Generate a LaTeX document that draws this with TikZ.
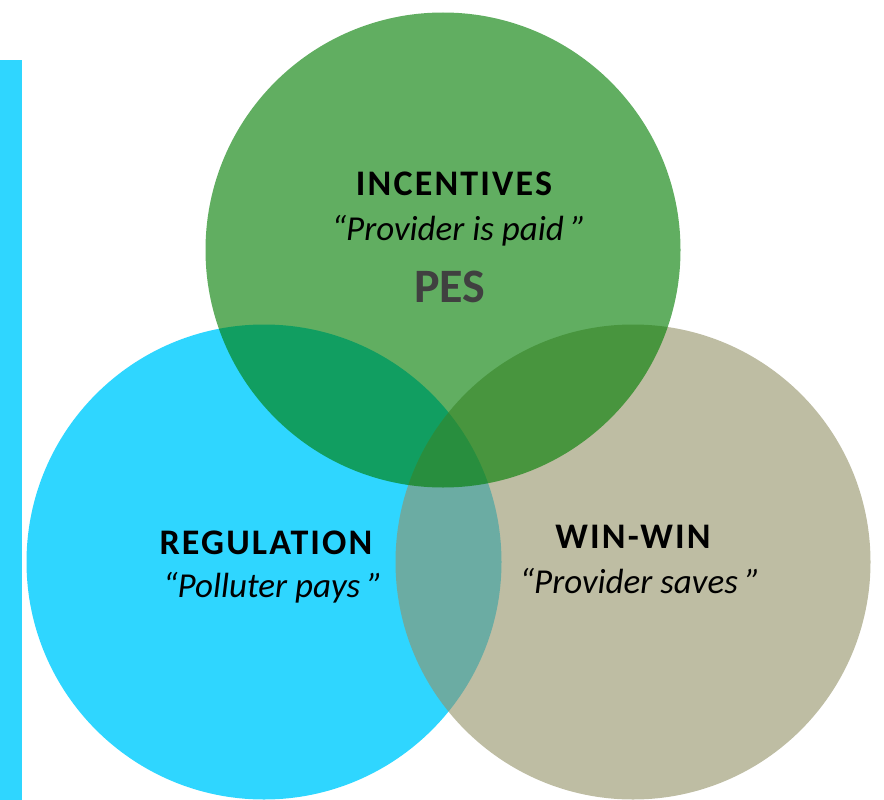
\documentclass[tikz,border=0pt]{standalone}
\usepackage{fontspec}
\setmainfont{Carlito}
\newfontfamily\capsfont[LetterSpace=6]{Carlito}
\definecolor{sky}{RGB}{47,214,255}
\definecolor{grass}{RGB}{0,125,0}
\definecolor{khaki}{RGB}{147,145,102}
\definecolor{pesgray}{RGB}{64,64,64}

\begin{document}
\begin{tikzpicture}[x=1pt,y=-1pt,
        set/.style={circle, minimum size=475pt, inner sep=0pt},
        regset/.style={set, fill=sky},
        winset/.style={set, fill=khaki, fill opacity=0.6},
        incset/.style={set, fill=grass, fill opacity=0.62},
        title/.style={anchor=base, inner sep=0pt, font=\capsfont\bfseries\fontsize{36}{42}\selectfont},
        motto/.style={anchor=base, inner sep=0pt, font=\itshape\fontsize{35}{40}\selectfont}
        ]
        \useasboundingbox (0,0) rectangle (884,800);
        \fill[sky] (0,60) rectangle (22,800);
        % the three sets
        \node[regset] (reg) at (264,562) {};
        \node[winset] (win) at (633,562) {};
        \node[incset] (inc) at (443,250) {};
        % labels
        \node[title] (inct) at (454,195) {INCENTIVES};
        \node[motto] (incm) at (459,240) {“Provider is paid ”};
        \node[title, text=pesgray, font=\bfseries\fontsize{48}{54}\selectfont] (pes) at (450,302) {PES};
        \node[title] (regt) at (266,554) {REGULATION};
        \node[motto] (regm) at (273,597) {“Polluter pays ”};
        \node[title] (wint) at (633,548) {WIN-WIN};
        \node[motto] (winm) at (640,593) {“Provider saves ”};
\end{tikzpicture}
\end{document}
